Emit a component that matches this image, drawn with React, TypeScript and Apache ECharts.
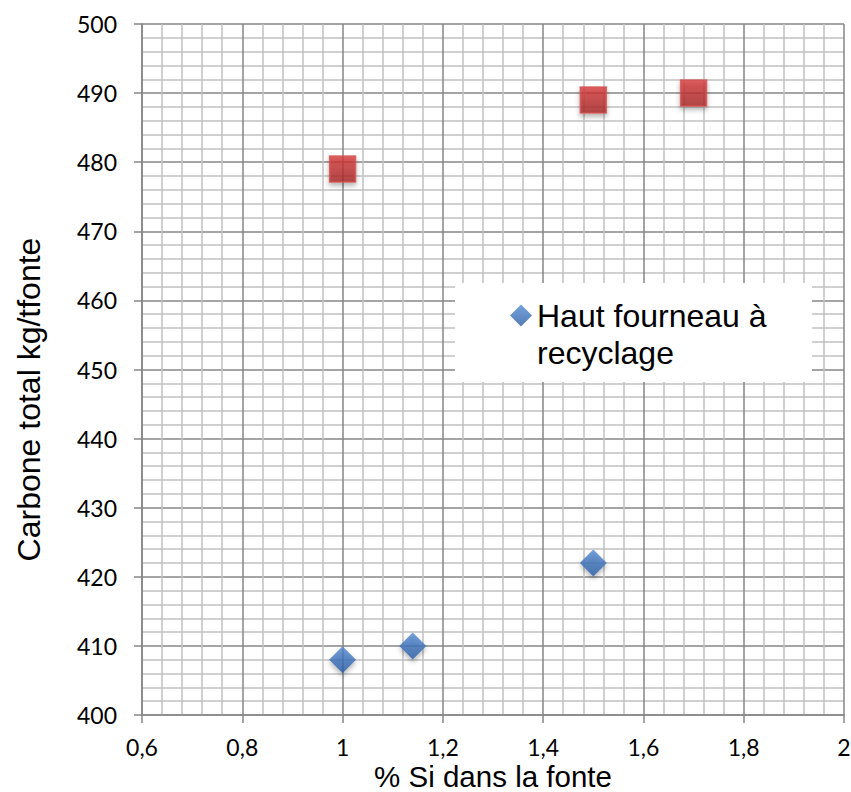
import React, { useEffect, useRef } from "react";
import * as echarts from "echarts";

const recyclingX = [1, 1.14, 1.5];
const recyclingY = [408, 410, 422];
const classicX = [1, 1.5, 1.7];
const classicY = [479, 489, 490];
const seriesNames = ["Haut fourneau à recyclage", "Haut fourneau classique"];
const xTitle = "% Si dans la fonte";
const yTitle = "Carbone total kg/tfonte";

export default function App() {
  const ref = useRef<HTMLDivElement>(null);
  useEffect(() => {
    if (!ref.current) return;
    const chart = echarts.init(ref.current, null, { renderer: "svg" });
    const blueGrad = new echarts.graphic.LinearGradient(0, 0, 0, 1, [
      { offset: 0, color: "#5289d2" },
      { offset: 1, color: "#2a5ca3" },
    ]);
    const redGrad = new echarts.graphic.LinearGradient(0, 0, 0, 1, [
      { offset: 0, color: "#d73b3b" },
      { offset: 1, color: "#a82727" },
    ]);
    const tickFont = { fontFamily: "Lato", fontSize: 23, color: "#000" };
    chart.setOption({
      animation: false,
      backgroundColor: "#fff",
      grid: { left: 142, right: 7, top: 24, bottom: 77, outerBoundsMode: "none", containLabel: false },
      graphic: [
        {
          type: "rect",
          z: 3,
          shape: { x: 455, y: 283, width: 357, height: 99 },
          style: { fill: "#fff" },
        },
        {
          type: "text",
          x: 493,
          y: 776,
          style: {
            text: xTitle,
            fontFamily: "Liberation Sans",
            fontSize: 29.5,
            fill: "#000",
            align: "center",
            verticalAlign: "middle",
          },
        },
      ],
      legend: {
        data: [seriesNames[0]],
        left: 510,
        top: 260,
        padding: 0,
        itemWidth: 22,
        itemHeight: 22,
        formatter: () => "\nHaut fourneau à\nrecyclage",
        textStyle: {
          fontFamily: "Liberation Sans",
          fontSize: 32,
          lineHeight: 37,
          color: "#000",
        },
      },
      xAxis: {
        type: "value",
        min: 0.6,
        max: 2,
        interval: 0.2,
        axisLine: { show: true, lineStyle: { color: "#868686", width: 1.5 } },
        axisTick: { show: true, length: 8, lineStyle: { color: "#868686", width: 1.5 } },
        axisLabel: {
          ...tickFont,
          margin: 20,
          formatter: (v: number) => String(Math.round(v * 10) / 10).replace(".", ","),
        },
        splitLine: { show: true, lineStyle: { color: "#868686", width: 1.5 } },
        minorTick: { show: false, splitNumber: 5 },
        minorSplitLine: { show: true, lineStyle: { color: "#c0c0c0", width: 1.5 } },
      },
      yAxis: {
        type: "value",
        min: 400,
        max: 500,
        interval: 10,
        name: yTitle,
        nameLocation: "middle",
        nameGap: 97,
        nameRotate: 90,
        nameTextStyle: {
          fontFamily: "Liberation Sans",
          fontSize: 32,
          color: "#000",
          padding: [0, 60, 0, 0],
        },
        axisLine: { show: true, lineStyle: { color: "#868686", width: 1.5 } },
        axisTick: { show: true, length: 8, lineStyle: { color: "#868686", width: 1.5 } },
        axisLabel: { ...tickFont, margin: 25 },
        splitLine: { show: true, lineStyle: { color: "#868686", width: 1.5 } },
        minorTick: { show: false, splitNumber: 5 },
        minorSplitLine: { show: true, lineStyle: { color: "#c0c0c0", width: 1.5 } },
      },
      series: [
        {
          name: seriesNames[0],
          type: "scatter",
          symbol: "diamond",
          symbolSize: 27,
          data: recyclingX.map((x, i) => [x, recyclingY[i]]),
          itemStyle: {
            color: blueGrad,
            shadowBlur: 5,
            shadowOffsetY: 3,
            shadowColor: "rgba(0,0,0,0.35)",
          },
        },
        {
          name: seriesNames[1],
          type: "scatter",
          symbol: "rect",
          symbolSize: 26,
          data: classicX.map((x, i) => [x, classicY[i]]),
          itemStyle: {
            color: redGrad,
            borderColor: "#d45252",
            borderWidth: 1.5,
            shadowBlur: 5,
            shadowOffsetY: 3,
            shadowColor: "rgba(0,0,0,0.35)",
          },
        },
      ],
    });
    return () => chart.dispose();
  }, []);
  return <div ref={ref} style={{ width: 851, height: 792, position: "absolute", left: 0, top: 0 }} />;
}
